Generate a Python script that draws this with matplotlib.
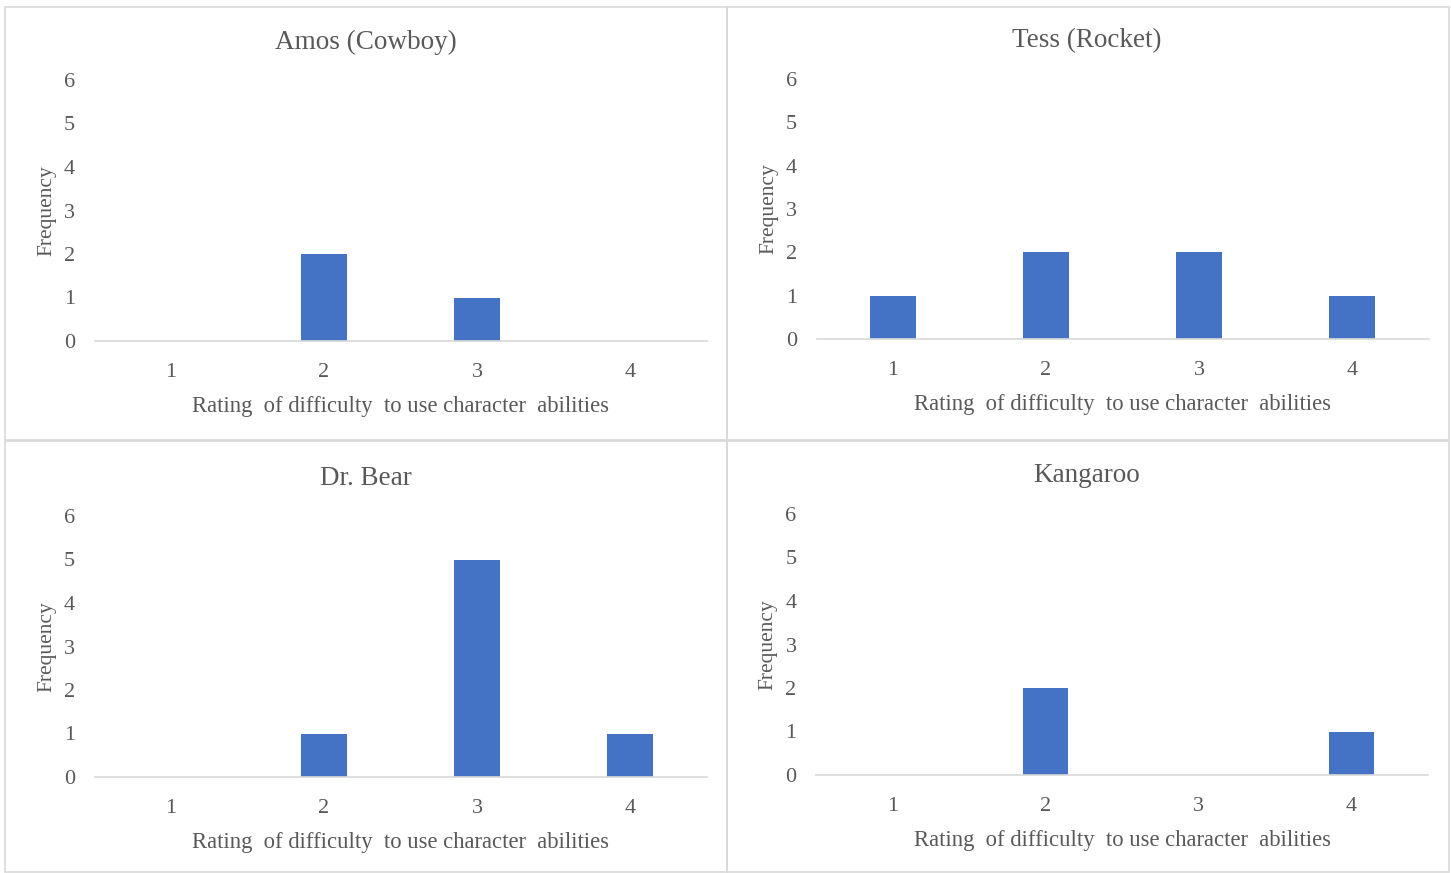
import matplotlib
matplotlib.use("Agg")
import matplotlib.pyplot as plt
from matplotlib.patches import Rectangle

plt.rcParams['font.family'] = ['Liberation Serif', 'DejaVu Serif']

ratings = [1, 2, 3, 4]
titles = ["Amos (Cowboy)", "Tess (Rocket)", "Dr. Bear", "Kangaroo"]
amos = [0, 2, 1, 0]
tess = [1, 2, 2, 1]
dr_bear = [0, 1, 5, 1]
kangaroo = [0, 2, 0, 1]
series = [amos, tess, dr_bear, kangaroo]

W, H = 1451, 873
fig = plt.figure(figsize=(W / 100, H / 100), dpi=100)

# panel boxes (px): left, top, right, bottom ; plot area: left, top(y of 6), right, baseline
panels = [
    ((5, 7, 727, 440), (94.5, 80, 706.5, 341), 366, 42),
    ((727, 7, 1449, 440), (816.5, 79, 1428.5, 339), 1087, 41),
    ((5, 441, 727, 872), (94.5, 516, 706.5, 777), 366, 478),
    ((727, 441, 1449, 872), (816, 514, 1428, 775), 1087, 476),
]

grey = "#595959"
for (box, area, tx, ty), title, vals in zip(panels, titles, series):
    l, t, r, b = box
    fig.patches.append(Rectangle((l / W, 1 - b / H), (r - l) / W, (b - t) / H,
                                 transform=fig.transFigure, fill=False,
                                 edgecolor="#d9d9d9", linewidth=1.2))
    al, at, ar, ab = area
    ax = fig.add_axes([al / W, 1 - ab / H, (ar - al) / W, (ab - at) / H])
    ax.bar(ratings, vals, width=0.3, color="#4472C4")
    ax.set_xlim(0.5, 4.5)
    ax.set_ylim(0, 6)
    ax.set_xticks(ratings)
    ax.set_yticks(range(7))
    for s in ["top", "right", "left"]:
        ax.spines[s].set_visible(False)
    ax.spines["bottom"].set_color("#d9d9d9")
    ax.spines["bottom"].set_linewidth(1.2)
    ax.tick_params(axis="x", length=0, pad=16, labelsize=16, labelcolor=grey)
    ax.tick_params(axis="y", length=0, pad=14, labelsize=16, labelcolor=grey)
    ax.set_xlabel("Rating  of difficulty  to use character  abilities",
                  fontsize=16.3, color=grey)
    ax.xaxis.set_label_coords(0.5, -0.252)
    ax.xaxis.label.set_va("center")
    ax.set_ylabel("Frequency", fontsize=15.5, color=grey)
    ax.yaxis.set_label_coords(-0.078, 0.5)
    ax.yaxis.label.set_va("center")
    fig.text(tx / W, 1 - ty / H, title, ha="center", va="center",
             fontsize=19.5, color=grey)

fig.savefig("out.png", dpi=100)
